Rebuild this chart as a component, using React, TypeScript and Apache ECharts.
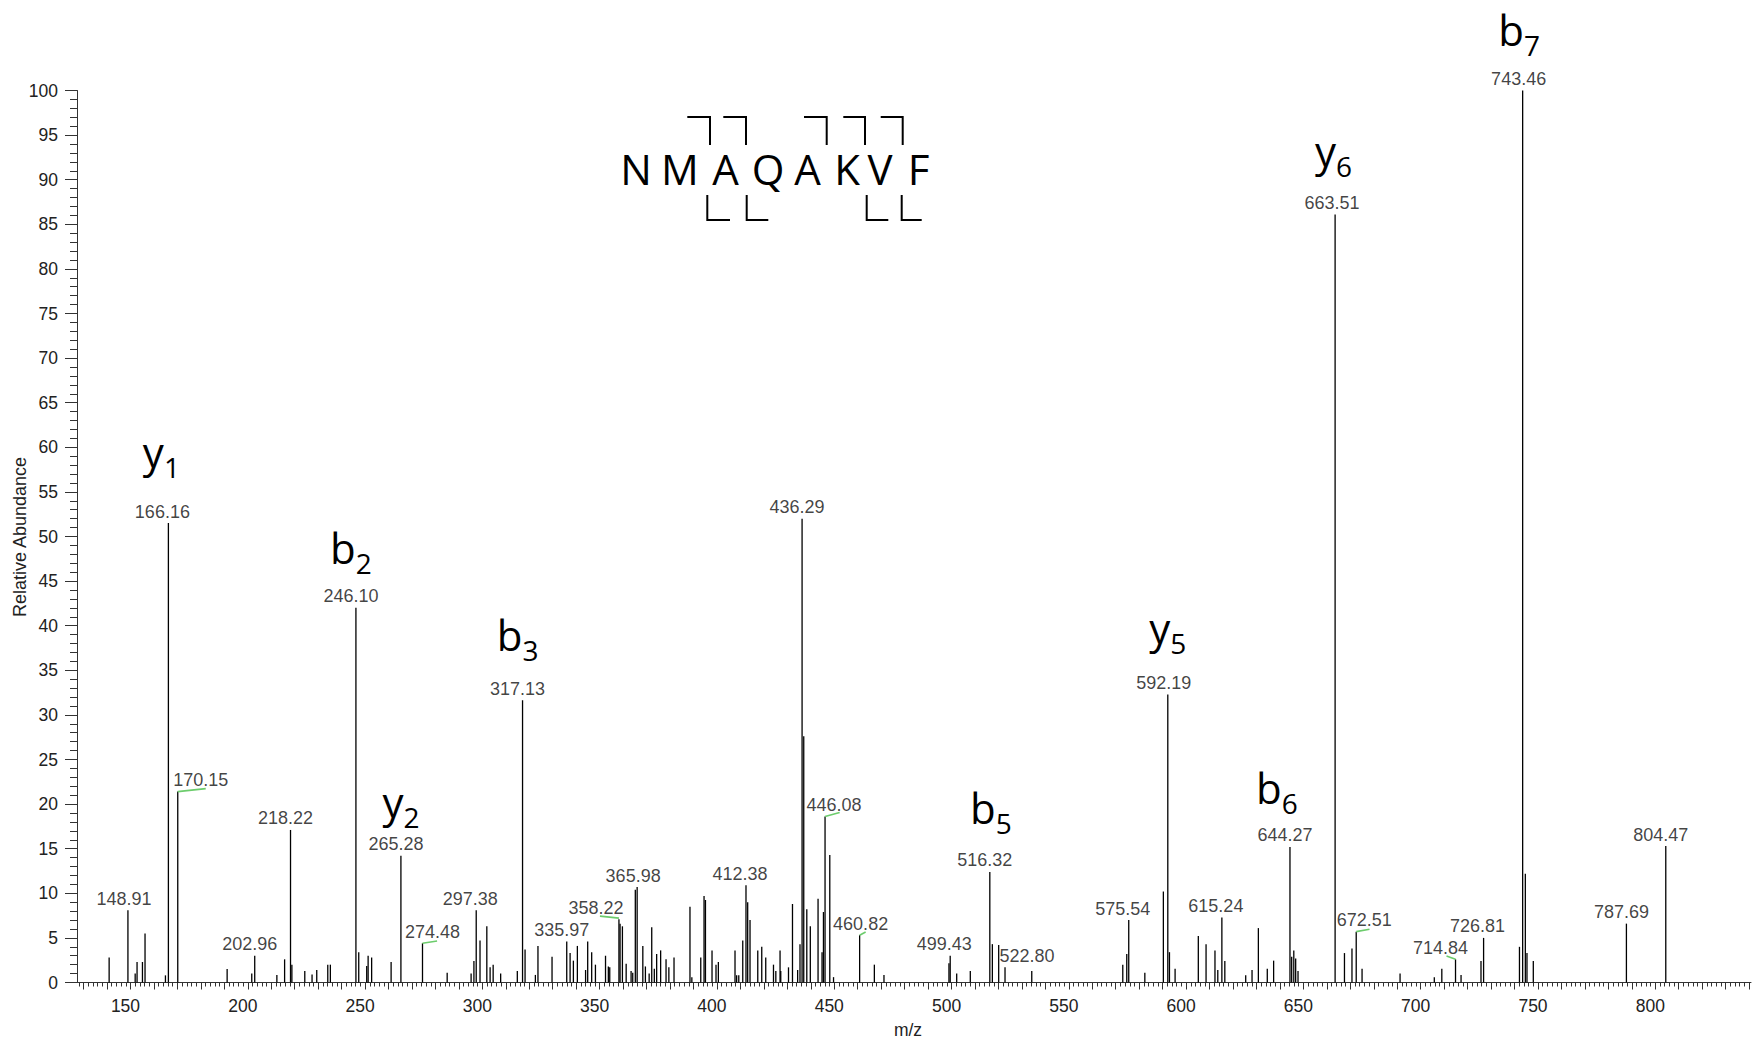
import React, { useEffect, useRef } from "react";
import * as echarts from "echarts";

// ---------- data ----------
const peakMz: number[] = [
  140.9, 148.91, 152.0, 152.8, 155.1, 156.2, 164.9, 166.16, 170.15, 191.2,
  201.7, 202.96, 212.4, 215.7, 218.22, 218.8, 224.3, 227.4, 229.4, 234.1,
  235.2, 246.1, 247.3, 250.7, 251.3, 252.8, 261.1, 265.28, 274.48, 285.0,
  295.2, 296.4, 297.38, 299.0, 301.9, 303.3, 304.6, 307.8, 314.9, 317.13,
  318.2, 322.6, 323.7, 329.7, 335.97, 337.4, 338.8, 340.5, 344.0, 344.9,
  346.6, 348.2, 352.5, 353.7, 354.3, 358.22, 358.7, 359.7, 361.3, 363.4,
  364.1, 365.2, 365.98, 368.4, 369.5, 371.1, 372.2, 373.3, 374.3, 376.0,
  378.3, 379.5, 381.7, 388.5, 389.3, 393.1, 394.5, 395.1, 397.9, 399.6,
  400.6, 407.7, 408.4, 409.3, 411.0, 412.38, 413.1, 414.1, 417.4, 419.1,
  420.8, 424.1, 425.1, 426.9, 427.2, 430.5, 432.2, 434.4, 435.4, 436.29,
  437.0, 438.3, 439.8, 443.1, 444.8, 445.4, 446.08, 448.1, 449.7, 460.82,
  467.1, 471.2, 498.9, 499.43, 502.2, 508.0, 516.32, 517.4, 520.1, 522.8,
  534.2, 573.0, 574.7, 575.54, 582.4, 590.3, 592.19, 592.9, 595.3, 605.2,
  608.5, 612.3, 613.5, 615.24, 616.5, 625.4, 628.1, 630.8, 634.6, 637.3,
  644.27, 645.0, 645.9, 646.7, 647.7, 663.51, 667.5, 670.7, 672.51, 675.0,
  691.2, 705.8, 709.0, 714.84, 717.2, 725.7, 726.81, 742.1, 743.46, 744.6,
  745.3, 748.0, 787.69, 804.47,
];
const peakIntensity: number[] = [
  2.8, 8.1, 1.0, 2.3, 2.3, 5.5, 0.8, 51.5, 21.4, 1.5,
  1.0, 3.0, 0.85, 2.6, 17.1, 2.0, 1.3, 0.9, 1.4, 2.0,
  2.0, 42.0, 3.4, 1.85, 3.0, 2.8, 2.3, 14.2, 4.4, 1.1,
  1.0, 2.4, 8.1, 4.7, 6.3, 1.7, 2.0, 1.0, 1.3, 31.65,
  3.7, 0.85, 4.1, 2.9, 4.6, 3.3, 2.45, 4.1, 1.4, 4.6,
  3.4, 2.0, 3.0, 1.8, 1.7, 7.1, 6.6, 6.3, 2.1, 1.3,
  1.1, 10.4, 10.7, 4.1, 1.8, 1.0, 6.2, 1.55, 3.2, 3.6,
  2.6, 1.7, 2.8, 8.5, 0.6, 2.8, 9.7, 9.25, 3.6, 2.0,
  2.3, 3.6, 0.8, 0.8, 4.7, 10.9, 9.0, 7.0, 3.6, 4.0,
  2.8, 2.0, 1.3, 3.6, 1.3, 1.7, 8.8, 1.4, 4.3, 52.0,
  27.6, 8.2, 6.3, 9.4, 3.4, 7.9, 18.6, 14.3, 0.6, 5.3,
  2.0, 0.85, 2.15, 3.0, 1.0, 1.3, 12.4, 4.3, 4.2, 1.7,
  1.3, 2.0, 3.2, 7.0, 1.1, 10.2, 32.3, 3.4, 1.55, 5.2,
  4.3, 3.6, 1.4, 7.3, 2.4, 0.8, 1.4, 6.1, 1.55, 2.45,
  15.2, 2.9, 3.6, 2.7, 1.3, 86.1, 3.3, 3.8, 5.7, 1.55,
  1.0, 0.6, 1.55, 2.6, 0.85, 2.4, 5.0, 4.0, 100, 12.2,
  3.3, 2.4, 6.6, 15.3,
];

// labelled peaks (m/z text shown above the peak)
const labelMz: number[] = [
  148.91, 166.16, 170.15, 202.96, 218.22, 246.1, 265.28, 274.48, 297.38, 317.13,
  335.97, 358.22, 365.98, 412.38, 436.29, 446.08, 460.82, 499.43, 516.32, 522.8,
  575.54, 592.19, 615.24, 644.27, 663.51, 672.51, 714.84, 726.81, 743.46, 787.69,
  804.47,
];
// horizontal label shift (px) relative to the peak
const labelDx: number[] = [
  -4, -6, 23, -5, -5, -5, -5, 10, -6, -5,
  -5, -23, -4, -6, -5, 9, 1, -6, -5, 22,
  -6, -4, -6, -5, -3, 8, -15, -6, -4, -5,
  -5,
];

// green connector lines between shifted labels and their peaks
const connMz: number[] = [170.15, 274.48, 358.22, 446.08, 460.82, 672.51, 714.84];
const connX1: number[] = [0, 0, -19, 0, 0, 0, -9];
const connY1: number[] = [0, 0, -3, 0, 0, 0, -3.3];
const connX2: number[] = [28, 14.6, 0, 14.6, 6, 13.3, 0];
const connY2: number[] = [-3, -2.3, -1, -4, -3.3, -2.4, 0];

// fragment ion annotations
const ionName: string[] = ["y", "b", "y", "b", "b", "y", "b", "y", "b"];
const ionSub: string[] = ["1", "2", "2", "3", "5", "5", "6", "6", "7"];
const ionMz: number[] = [166.16, 246.1, 265.28, 317.13, 516.32, 592.19, 644.27, 663.51, 743.46];
const ionDx: number[] = [-7, -5, 0, -5, 1, 0, -13, -1.5, -3.5];
const ionDy: number[] = [-55, -44, -38, -49, -48, -51, -43.5, -48, -44.3];

// axis ticks
const xLabelValues: number[] = [150, 200, 250, 300, 350, 400, 450, 500, 550, 600, 650, 700, 750, 800];
const X_MIN = 127.2;
const X_MAX = 840.8;

// peptide sequence
const sequence: string[] = ["N", "M", "A", "Q", "A", "K", "V", "F"];
const seqX: number[] = [636, 680, 725.5, 768, 807.5, 847, 880, 918.5];

const LABEL_FONT = "Liberation Sans, Arial, sans-serif";
const ION_FONT = "Open Sans, Noto Sans, sans-serif";

function intensityOf(mz: number): number {
  let best = 0;
  let bd = Infinity;
  for (let i = 0; i < peakMz.length; i++) {
    const d = Math.abs(peakMz[i] - mz);
    if (d < bd) {
      bd = d;
      best = i;
    }
  }
  return peakIntensity[best];
}

export default function App() {
  const ref = useRef<HTMLDivElement>(null);

  useEffect(() => {
    const el = ref.current;
    if (!el) return;
    const chart = echarts.init(el, null, { renderer: "svg" });

    const canvas = document.createElement("canvas");
    const ctx = canvas.getContext("2d")!;
    const textW = (t: string, size: number) => {
      ctx.font = `${size}px "Open Sans"`;
      return ctx.measureText(t).width;
    };

    const ticks10: number[] = [];
    for (let v = 130; v <= 840; v += 10) ticks10.push(v);
    const ticks2: number[] = [];
    for (let v = 128; v <= 840; v += 2) ticks2.push(v);

    const peakData = peakMz.map((m, i) => [m, peakIntensity[i]]);
    const labelData = labelMz.map((m, i) => ({
      value: [m, intensityOf(m)],
      label: { offset: [labelDx[i], 0] },
    }));
    const connData = connMz.map((m, i) => [m, intensityOf(m), i]);
    const ionData = ionMz.map((m, i) => [m, intensityOf(m), i]);

    const MAIN = 42;
    const SUB = 28;
    const SUB_DROP = 10;

    const graphics: any[] = [];
    // y-axis title
    graphics.push({
      type: "text",
      x: 20,
      y: 537,
      rotation: Math.PI / 2,
      style: {
        text: "Relative Abundance",
        font: `18px ${LABEL_FONT}`,
        fill: "#222",
        align: "center",
        textAlign: "center",
        verticalAlign: "middle",
        textVerticalAlign: "middle",
      },
    });
    sequence.forEach((s, i) => {
      graphics.push({
        type: "text",
        x: seqX[i],
        y: 168,
        style: {
          text: s,
          font: `${MAIN}px ${ION_FONT}`,
          fill: "#000",
          align: "center",
          textAlign: "center",
          verticalAlign: "middle",
          textVerticalAlign: "middle",
        },
      });
    });
    const topBr = [
      [687.3, 710],
      [723.3, 746],
      [804, 826.7],
      [843.3, 865],
      [880.7, 902.7],
    ];
    topBr.forEach(([a, b]) => {
      graphics.push({
        type: "polyline",
        shape: { points: [[a, 117], [b, 117], [b, 145]] },
        style: { stroke: "#000", lineWidth: 2, fill: null },
      });
    });
    const botBr = [
      [707.3, 730],
      [746.7, 768.3],
      [866.7, 888.3],
      [901.7, 921.7],
    ];
    botBr.forEach(([a, b]) => {
      graphics.push({
        type: "polyline",
        shape: { points: [[a, 195], [a, 220], [b, 220]] },
        style: { stroke: "#000", lineWidth: 2, fill: null },
      });
    });

    const axisColor = "#333";

    const option: any = {
      animation: false,
      backgroundColor: "#fff",
      grid: {
        left: 77,
        top: 90.5,
        width: 1674,
        height: 892,
        containLabel: false,
        outerBoundsMode: "none",
      },
      xAxis: [
        {
          type: "value",
          min: X_MIN,
          max: X_MAX,
          position: "bottom",
          axisLine: { show: true, onZero: false, lineStyle: { color: axisColor, width: 1 } },
          axisTick: { show: true, customValues: ticks10, length: 7, lineStyle: { color: axisColor } },
          axisLabel: {
            customValues: xLabelValues,
            fontSize: 17.5,
            fontFamily: LABEL_FONT,
            color: "#222",
            margin: 14,
            padding: [0, 10, 0, 0],
          },
          splitLine: { show: false },
          name: "m/z",
          nameLocation: "middle",
          nameGap: 38,
          nameTextStyle: {
            fontSize: 17.5,
            fontFamily: LABEL_FONT,
            color: "#222",
            padding: [0, 12, 0, 0],
          },
        },
        {
          type: "value",
          min: X_MIN,
          max: X_MAX,
          position: "bottom",
          offset: 0,
          axisLine: { show: false },
          axisTick: { show: true, customValues: ticks2, length: 4, lineStyle: { color: axisColor } },
          axisLabel: { show: false },
          splitLine: { show: false },
        },
      ],
      yAxis: {
        type: "value",
        min: 0,
        max: 100,
        interval: 5,
        axisLine: { show: true, lineStyle: { color: axisColor, width: 1 } },
        axisTick: { show: true, length: 12, lineStyle: { color: axisColor } },
        minorTick: { show: true, splitNumber: 5, length: 7, lineStyle: { color: axisColor } },
        axisLabel: { fontSize: 17.5, fontFamily: LABEL_FONT, color: "#222", margin: 19 },
        splitLine: { show: false },
      },
      graphic: graphics,
      series: [
        {
          type: "custom",
          name: "peaks",
          xAxisIndex: 0,
          data: peakData,
          encode: { x: 0, y: 1 },
          renderItem: (_p: any, api: any) => {
            const top = api.coord([api.value(0), api.value(1)]);
            const base = api.coord([api.value(0), 0]);
            return {
              type: "line",
              shape: { x1: top[0], y1: top[1], x2: base[0], y2: base[1] },
              style: { stroke: "#000", lineWidth: 1.3 },
            };
          },
        },
        {
          type: "scatter",
          name: "labels",
          xAxisIndex: 0,
          data: labelData,
          symbol: "circle",
          symbolSize: 1,
          itemStyle: { color: "rgba(0,0,0,0)" },
          label: {
            show: true,
            position: "top",
            distance: 2,
            formatter: (p: any) => p.value[0].toFixed(2),
            fontSize: 18,
            fontFamily: LABEL_FONT,
            color: "#111",
          },
          emphasis: { disabled: true },
          z: 5,
        },
        {
          type: "custom",
          name: "connectors",
          xAxisIndex: 0,
          data: connData,
          encode: { x: 0, y: 1 },
          renderItem: (_p: any, api: any) => {
            const i = api.value(2);
            const pt = api.coord([api.value(0), api.value(1)]);
            return {
              type: "line",
              shape: {
                x1: pt[0] + connX1[i],
                y1: pt[1] + connY1[i],
                x2: pt[0] + connX2[i],
                y2: pt[1] + connY2[i],
              },
              style: { stroke: "#6ccc6c", lineWidth: 1.6 },
            };
          },
          z: 4,
        },
        {
          type: "custom",
          name: "ions",
          xAxisIndex: 0,
          data: ionData,
          encode: { x: 0, y: 1 },
          renderItem: (_p: any, api: any) => {
            const i = api.value(2);
            const pt = api.coord([api.value(0), api.value(1)]);
            const cx = pt[0] + ionDx[i];
            const base = pt[1] + ionDy[i];
            const wm = textW(ionName[i], MAIN);
            const ws = textW(ionSub[i], SUB);
            const x0 = cx - (wm + ws) / 2;
            return {
              type: "group",
              children: [
                {
                  type: "text",
                  x: x0,
                  y: base - 0.388 * MAIN,
                  style: {
                    text: ionName[i],
                    font: `${MAIN}px ${ION_FONT}`,
                    fill: "#000",
                    align: "left",
                    textAlign: "left",
                    verticalAlign: "middle",
                    textVerticalAlign: "middle",
                  },
                },
                {
                  type: "text",
                  x: x0 + wm,
                  y: base + SUB_DROP - 0.388 * SUB,
                  style: {
                    text: ionSub[i],
                    font: `${SUB}px ${ION_FONT}`,
                    fill: "#000",
                    align: "left",
                    textAlign: "left",
                    verticalAlign: "middle",
                    textVerticalAlign: "middle",
                  },
                },
              ],
            };
          },
          z: 6,
        },
      ],
    };

    chart.setOption(option);
    return () => {
      chart.dispose();
    };
  }, []);

  return (
    <div
      ref={ref}
      style={{ position: "absolute", left: 0, top: 0, width: 1754, height: 1040, background: "#fff" }}
    />
  );
}
